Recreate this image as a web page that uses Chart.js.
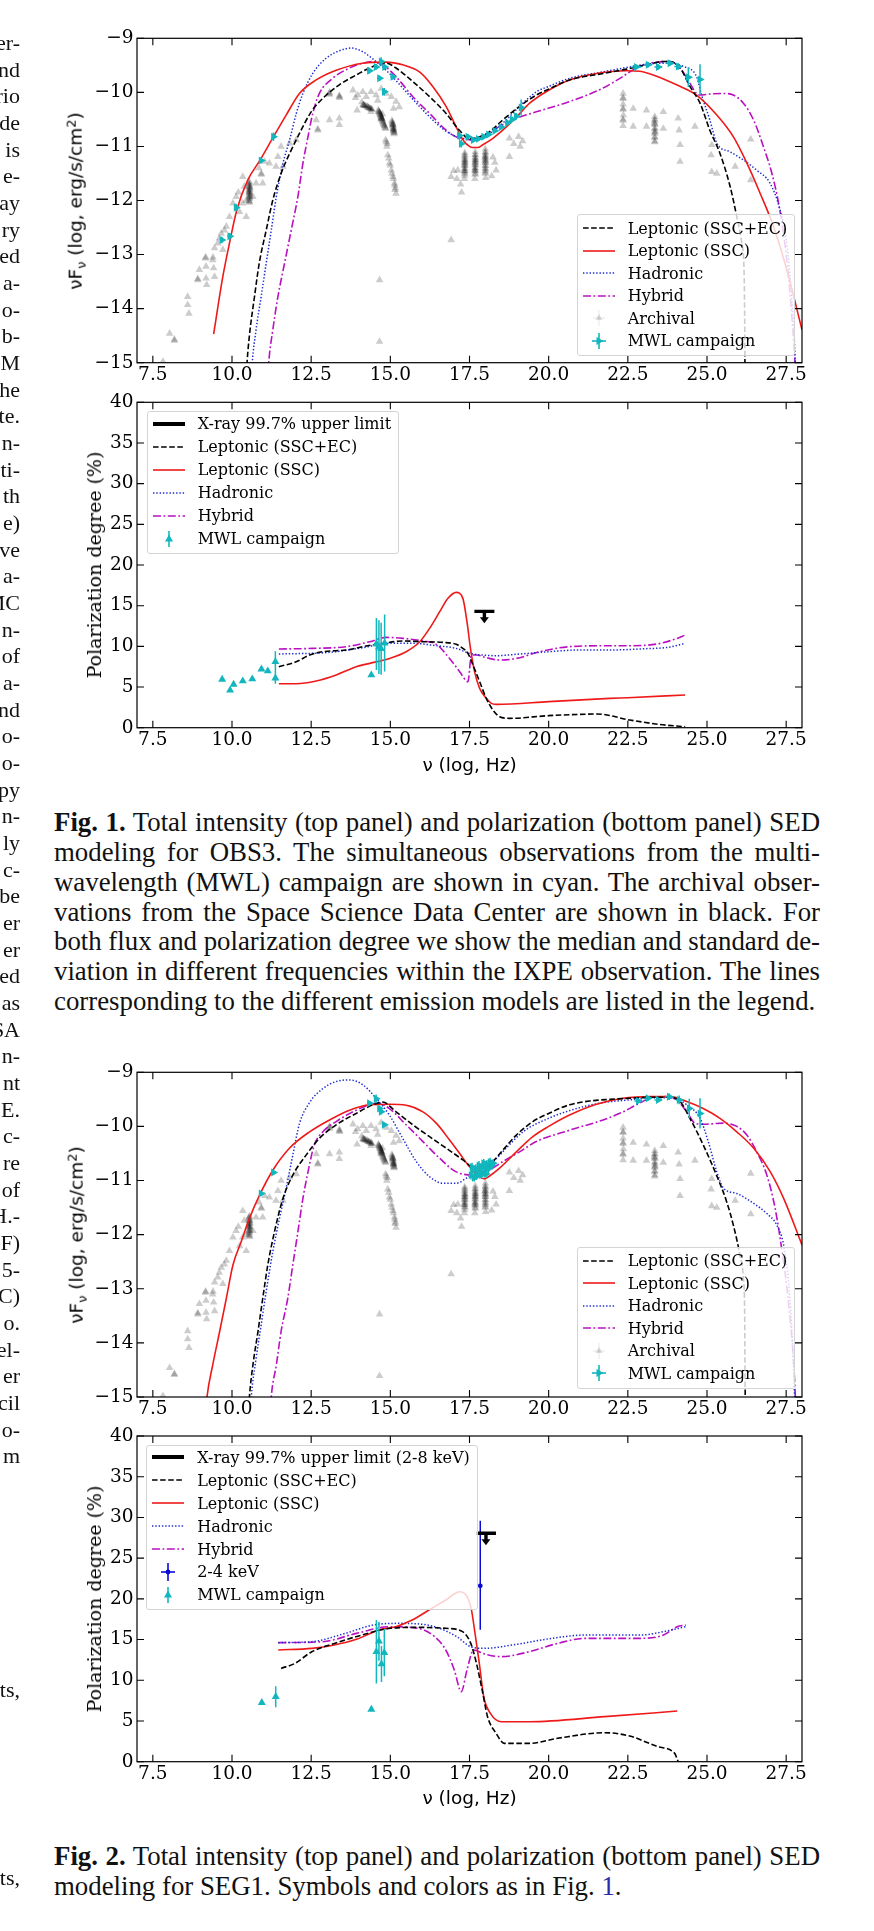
<!DOCTYPE html>
<html lang="en">
<head>
<meta charset="utf-8">
<title>SED and polarization modeling</title>
<script src="https://cdn.jsdelivr.net/npm/chart.js@4.4.0/dist/chart.umd.min.js"></script>
<style>
  html, body { margin: 0; padding: 0; background: #fff; }
  body { position: relative; width: 874px; height: 1931px; overflow: hidden; color: #000; }
  canvas.panel { position: absolute; left: 0; }
  .frag { position: absolute; right: 854px; font: 22px 'Liberation Serif', serif; line-height: 26.67px; white-space: nowrap; color: #111; }
  .cap { position: absolute; left: 54px; width: 766px; font-family: 'Liberation Serif', serif; line-height: 29.7px; color: #111; }
  .cap div { white-space: nowrap; }
  .legend { position: absolute; border: 1px solid #d4d4d4; border-radius: 3px; background: rgba(255,255,255,0.8);
            padding: 0 7px 3px 5px; font: 16px 'DejaVu Serif', serif; }
  .legend .row { display: flex; align-items: center; white-space: nowrap; }
  .legend svg { flex: none; margin-right: 13px; }
  .axlabel { position: absolute; white-space: nowrap; line-height: 1; transform: translate(-50%, -50%); }
  .axlabel.rot { transform: translate(-50%, -50%) rotate(-90deg); }
  .axlabel sub { font-size: 70%; vertical-align: -0.25em; }
  .axlabel sup { font-size: 70%; vertical-align: 0.5em; }
</style>
</head>
<body>
<script>
// ---- axis ticks and legend labels ----
const X_TICKS = [7.5, 10, 12.5, 15, 17.5, 20, 22.5, 25, 27.5];
const SED_Y_TICKS = [-15, -14, -13, -12, -11, -10, -9];
const POL_Y_TICKS = [0, 5, 10, 15, 20, 25, 30, 35, 40];
const SED_LEGEND = ['Leptonic (SSC+EC)', 'Leptonic (SSC)', 'Hadronic', 'Hybrid', 'Archival', 'MWL campaign'];
const POL_OBS3_LEGEND = ['X-ray 99.7% upper limit', 'Leptonic (SSC+EC)', 'Leptonic (SSC)', 'Hadronic', 'Hybrid', 'MWL campaign'];
const POL_SEG1_LEGEND = ['X-ray 99.7% upper limit (2-8 keV)', 'Leptonic (SSC+EC)', 'Leptonic (SSC)', 'Hadronic', 'Hybrid', '2-4 keV', 'MWL campaign'];

// ---- OBS3 SED models: [log nu, log nuFnu] ----
const OBS3_EC = [[10.45,-15.2],[10.5,-14.8],[10.57,-14.39],[10.71,-13.78],[10.86,-13.16],[11.08,-12.55],[11.29,-11.99],[11.55,-11.5],[11.82,-11.13],[12.13,-10.76],[12.5,-10.36],[12.87,-10.11],[13.39,-9.86],[13.92,-9.68],[14.45,-9.52],[14.87,-9.46],[15.18,-9.55],[15.71,-9.8],[16.24,-10.08],[16.76,-10.39],[17.18,-10.7],[17.5,-10.86],[17.82,-10.82],[18.13,-10.73],[18.55,-10.51],[19.08,-10.26],[19.61,-10.05],[20.0,-9.94],[20.66,-9.77],[21.72,-9.65],[22.46,-9.57],[23.09,-9.49],[23.62,-9.43],[23.83,-9.43],[24.15,-9.55],[24.46,-9.89],[24.78,-10.2],[25.09,-10.7],[25.41,-11.13],[25.73,-11.74],[25.94,-12.3],[26.1,-12.79],[26.17,-13.3],[26.19,-14.2],[26.2,-15.2]];
const OBS3_SSC = [[9.42,-14.47],[9.71,-13.41],[9.92,-12.79],[10.15,-12.18],[10.5,-11.62],[10.89,-11.25],[11.31,-10.82],[11.71,-10.42],[12.13,-10.02],[12.66,-9.77],[13.29,-9.59],[14.13,-9.46],[14.87,-9.44],[15.39,-9.49],[15.92,-9.62],[16.34,-9.89],[16.76,-10.26],[17.13,-10.7],[17.32,-10.9],[17.5,-11.0],[17.6,-11.02],[17.76,-11.02],[17.92,-10.97],[18.24,-10.85],[18.55,-10.7],[18.98,-10.46],[19.4,-10.2],[20.0,-9.96],[20.66,-9.77],[21.51,-9.65],[22.46,-9.6],[22.88,-9.61],[23.41,-9.7],[24.04,-9.86],[24.67,-10.05],[25.31,-10.42],[25.83,-10.82],[26.26,-11.31],[26.68,-11.87],[27.1,-12.48],[27.52,-13.28],[28.0,-14.39]];
const OBS3_HAD = [[10.62,-15.2],[10.64,-15.0],[10.76,-14.39],[10.92,-13.78],[11.08,-13.16],[11.24,-12.55],[11.4,-11.93],[11.61,-11.31],[11.82,-10.88],[12.03,-10.39],[12.24,-10.02],[12.55,-9.65],[12.97,-9.37],[13.39,-9.23],[13.76,-9.18],[14.13,-9.25],[14.55,-9.43],[14.97,-9.65],[15.39,-9.92],[15.92,-10.26],[16.45,-10.57],[16.87,-10.76],[17.29,-10.85],[17.71,-10.88],[18.13,-10.76],[18.55,-10.57],[19.08,-10.26],[19.61,-9.99],[20.0,-9.89],[20.66,-9.74],[21.72,-9.62],[22.46,-9.54],[23.09,-9.48],[23.72,-9.46],[24.25,-9.52],[24.67,-9.71],[24.83,-10.05],[25.09,-10.51],[25.31,-10.94],[25.73,-11.1],[26.15,-11.25],[26.57,-11.44],[26.99,-11.68],[27.31,-12.18],[27.52,-12.79],[27.65,-13.6],[27.75,-14.5],[27.8,-15.2]];
const OBS3_HYB = [[11.14,-15.2],[11.16,-15.0],[11.29,-14.39],[11.45,-13.78],[11.66,-13.16],[11.87,-12.55],[12.08,-11.93],[12.24,-11.31],[12.4,-10.82],[12.55,-10.39],[12.76,-10.02],[13.18,-9.74],[13.71,-9.55],[14.13,-9.46],[14.45,-9.43],[14.76,-9.49],[15.18,-9.71],[15.71,-10.08],[16.24,-10.39],[16.76,-10.7],[17.18,-10.85],[17.71,-10.88],[18.13,-10.73],[18.55,-10.6],[18.98,-10.48],[19.61,-10.36],[20.66,-10.17],[21.72,-9.92],[22.25,-9.74],[22.77,-9.55],[23.2,-9.46],[23.83,-9.43],[24.15,-9.55],[24.46,-9.83],[24.67,-10.02],[24.78,-10.05],[25.09,-10.03],[25.52,-10.02],[25.83,-10.05],[26.15,-10.2],[26.47,-10.51],[26.78,-11.0],[27.05,-11.5],[27.26,-12.05],[27.47,-12.85],[27.63,-13.78],[27.78,-15.0],[27.8,-15.2]];

// ---- SEG1 SED models ----
const SEG1_EC = [[10.53,-15.2],[10.55,-15.0],[10.66,-14.41],[10.82,-13.79],[10.97,-13.18],[11.13,-12.56],[11.34,-11.95],[11.61,-11.33],[11.92,-10.9],[12.34,-10.53],[12.76,-10.22],[13.29,-9.97],[13.92,-9.76],[14.45,-9.6],[14.76,-9.55],[15.18,-9.73],[15.71,-9.97],[16.24,-10.19],[16.76,-10.4],[17.29,-10.62],[17.71,-10.81],[17.92,-10.84],[18.24,-10.65],[18.55,-10.44],[18.98,-10.16],[19.5,-9.91],[20.0,-9.76],[20.66,-9.6],[21.3,-9.53],[21.93,-9.5],[22.56,-9.48],[23.3,-9.46],[23.83,-9.46],[24.15,-9.54],[24.46,-9.85],[24.88,-10.34],[25.3,-10.9],[25.62,-11.39],[25.83,-11.82],[26.04,-12.38],[26.15,-12.81],[26.19,-13.5],[26.2,-14.5],[26.21,-15.2]];
const SEG1_SSC = [[9.18,-15.2],[9.21,-15.0],[9.39,-14.41],[9.61,-13.79],[9.82,-13.18],[10.03,-12.56],[10.29,-12.13],[10.55,-11.7],[10.87,-11.27],[11.29,-10.81],[11.82,-10.4],[12.45,-10.1],[13.08,-9.88],[13.71,-9.7],[14.34,-9.6],[14.97,-9.59],[15.5,-9.61],[16.03,-9.73],[16.45,-9.94],[16.87,-10.25],[17.19,-10.5],[17.45,-10.71],[17.71,-10.88],[17.97,-10.97],[18.1,-10.93],[18.45,-10.77],[18.98,-10.47],[19.5,-10.19],[20.0,-10.0],[20.66,-9.79],[21.51,-9.59],[22.35,-9.48],[23.2,-9.45],[23.83,-9.45],[24.36,-9.54],[24.88,-9.67],[25.41,-9.85],[25.94,-10.1],[26.47,-10.4],[27.0,-10.84],[27.42,-11.33],[28.0,-12.19]];
const SEG1_HAD = [[10.59,-15.2],[10.61,-15.0],[10.76,-14.29],[10.92,-13.67],[11.08,-13.05],[11.29,-12.31],[11.5,-11.7],[11.71,-11.14],[11.92,-10.53],[12.13,-9.95],[12.45,-9.56],[12.87,-9.3],[13.29,-9.17],[13.71,-9.14],[14.13,-9.23],[14.55,-9.48],[14.97,-9.79],[15.39,-10.22],[15.82,-10.65],[16.24,-10.93],[16.66,-11.05],[17.08,-11.05],[17.39,-10.96],[17.71,-10.84],[17.82,-10.77],[18.24,-10.65],[18.66,-10.4],[19.19,-10.1],[20.0,-9.85],[20.88,-9.67],[21.72,-9.56],[22.56,-9.51],[23.41,-9.47],[23.93,-9.48],[24.36,-9.6],[24.78,-9.85],[25.04,-10.28],[25.31,-10.84],[25.52,-11.14],[25.94,-11.24],[26.47,-11.42],[26.89,-11.61],[27.2,-11.82],[27.42,-12.19],[27.58,-12.9],[27.7,-14.0],[27.78,-15.2]];
const SEG1_HYB = [[11.22,-15.2],[11.24,-15.0],[11.4,-14.41],[11.55,-13.79],[11.76,-13.18],[11.92,-12.56],[12.08,-11.95],[12.24,-11.33],[12.4,-10.84],[12.6,-10.34],[12.87,-10.1],[13.29,-9.91],[13.82,-9.73],[14.34,-9.6],[14.6,-9.57],[14.97,-9.67],[15.5,-9.97],[16.03,-10.28],[16.56,-10.59],[17.08,-10.84],[17.71,-10.9],[18.03,-10.84],[18.55,-10.65],[19.08,-10.47],[19.61,-10.28],[20.66,-10.07],[21.72,-9.88],[22.35,-9.73],[22.77,-9.6],[23.2,-9.48],[23.72,-9.45],[24.04,-9.51],[24.36,-9.73],[24.62,-9.94],[24.88,-9.96],[25.52,-9.94],[25.94,-10.0],[26.26,-10.16],[26.57,-10.47],[26.89,-10.9],[27.15,-11.51],[27.37,-12.31],[27.58,-13.3],[27.79,-15.0],[27.8,-15.2]];

// ---- polarization degree models: [log nu, PD %] ----
const POL_OBS3_EC = [[11.48,7.5],[12.03,8.11],[12.45,8.93],[12.87,9.34],[13.61,9.55],[14.13,9.96],[14.77,10.37],[15.4,10.66],[16.03,10.57],[16.66,10.49],[17.08,10.25],[17.29,9.75],[17.45,9.14],[17.61,7.7],[17.82,5.66],[18.03,3.61],[18.24,2.17],[18.45,1.35],[18.77,1.15],[20.0,1.48],[20.98,1.64],[21.53,1.68],[22.56,0.95],[23.5,0.4],[24.31,0.12]];
const POL_OBS3_SSC = [[11.48,5.41],[12.03,5.41],[12.66,5.74],[13.29,6.48],[13.92,7.5],[14.35,7.91],[14.98,8.52],[15.5,9.34],[15.93,10.57],[16.24,12.21],[16.56,14.26],[16.82,15.9],[17.08,16.64],[17.29,15.9],[17.42,13.03],[17.53,9.75],[17.66,6.89],[17.82,4.84],[18.03,3.61],[18.19,2.99],[18.35,2.87],[20.0,3.2],[21.93,3.61],[22.5,3.69],[24.31,4.02]];
const POL_OBS3_HAD = [[11.48,9.06],[13.08,9.26],[14.13,9.84],[14.98,10.37],[15.71,10.37],[16.45,10.08],[17.08,9.75],[17.5,9.14],[17.93,8.93],[18.35,8.85],[18.98,9.02],[20.0,9.34],[20.98,9.55],[21.93,9.55],[23.0,9.7],[23.8,9.9],[24.31,10.37]];
const POL_OBS3_HYB = [[11.48,9.67],[12.55,9.75],[13.61,9.96],[14.35,10.57],[14.87,11.1],[15.4,10.98],[16.03,10.66],[16.45,10.25],[16.87,8.52],[17.19,6.89],[17.45,5.66],[17.56,8.93],[17.72,8.93],[18.03,8.61],[18.45,8.32],[18.98,8.52],[19.72,9.34],[20.66,9.96],[21.93,10.08],[22.56,10.08],[23.44,10.3],[24.0,10.9],[24.31,11.39]];
const POL_SEG1_EC = [[11.55,11.46],[11.99,12.08],[12.52,13.51],[13.23,14.53],[14.11,15.56],[14.99,16.38],[15.87,16.5],[16.75,16.38],[17.28,15.97],[17.54,14.53],[17.72,12.08],[17.9,8.8],[18.07,5.53],[18.34,3.48],[18.6,2.25],[19.39,2.25],[20.28,2.87],[21.77,3.56],[22.56,3.15],[23.45,1.84],[23.98,1.02],[24.06,0.3],[24.1,0],[24.33,0]];
const POL_SEG1_SSC = [[11.46,13.72],[12.52,13.92],[13.23,14.33],[13.93,15.03],[14.64,16.17],[15.17,16.58],[15.69,17.4],[16.22,18.63],[16.75,19.86],[17.19,20.88],[17.54,19.04],[17.66,16.17],[17.81,12.08],[17.95,7.98],[18.16,5.94],[18.51,4.91],[19.39,4.91],[21.77,5.53],[24.06,6.22]];
const POL_SEG1_HAD = [[11.46,14.62],[12.52,14.74],[13.58,15.76],[14.46,16.79],[15.34,16.99],[16.4,16.58],[17.1,15.35],[17.54,14.12],[17.98,13.92],[18.86,14.33],[20.1,15.15],[21.16,15.56],[22.92,15.56],[23.63,15.97],[24.33,16.58]];
const POL_SEG1_HYB = [[11.46,14.62],[12.87,14.74],[13.93,15.76],[14.99,16.58],[15.87,16.38],[16.4,15.35],[16.75,13.72],[17.02,11.26],[17.24,8.6],[17.42,11.26],[17.63,13.72],[17.98,13.22],[18.51,12.9],[19.39,13.51],[20.28,14.53],[21.16,15.15],[22.92,15.15],[23.63,15.56],[24.06,16.58],[24.33,16.79]];

// ---- archival SSDC points (shared by both SED panels) ----
const ARCHIVAL = [
  [7.82,-14.98],[8.03,-14.46],[8.18,-14.59],[8.18,-14.57],[8.6,-13.78],[8.6,-13.93],[8.64,-14.09],
  [8.92,-13.47],[8.92,-13.45],[8.97,-13.28],[9.16,-13.07],[9.17,-13.05],[9.18,-13.22],[9.18,-13.44],[9.2,-13.56],
  [9.39,-13.1],[9.42,-13.25],[9.45,-13.41],[9.4,-13.05],[9.45,-12.88],[9.55,-12.79],[9.66,-12.61],[9.76,-12.55],
  [9.82,-12.48],[9.71,-12.91],[9.6,-12.7],[9.92,-12.3],[10.03,-12.05],[10.13,-11.93],[10.24,-12.21],[10.34,-12.05],
  [10.39,-11.74],[10.34,-11.56],[10.2,-11.85],[10.45,-12.3],[10.45,-12.0],
  [10.55,-11.66],[10.55,-11.72],[10.56,-11.77],[10.54,-11.82],[10.55,-11.86],[10.56,-11.9],[10.55,-11.95],
  [10.54,-12.0],[10.55,-12.04],[10.56,-11.8],[10.55,-11.92],[10.53,-11.7],
  [10.55,-11.68],[10.55,-11.74],[10.55,-11.79],[10.55,-11.84],[10.55,-11.88],[10.55,-11.93],[10.55,-11.97],
  [10.55,-12.02],[10.56,-11.75],[10.54,-11.85],
  [10.66,-11.93],[10.76,-11.68],[10.92,-11.5],[10.93,-11.52],[10.97,-11.68],[11.03,-11.28],[11.18,-11.31],
  [11.39,-11.37],[11.45,-11.19],[11.55,-11.0],[11.61,-11.37],[11.82,-10.94],[12.03,-10.88],[10.85,-11.4],
  [12.66,-10.51],[12.71,-10.7],[12.71,-10.68],[13.08,-10.02],[13.08,-10.0],[13.07,-10.04],[13.08,-10.51],
  [13.39,-10.08],[13.39,-10.06],[13.4,-10.1],[13.39,-10.48],[13.39,-10.6],
  [13.82,-9.96],[13.97,-10.05],[14.13,-9.99],[14.24,-10.08],[14.39,-9.99],[14.55,-10.05],[14.71,-9.93],
  [14.87,-10.02],[15.03,-10.08],[15.18,-10.17],[15.28,-10.27],[13.95,-10.33],[14.39,-10.36],[13.9,-10.1],
  [14.1,-10.18],[14.6,-10.15],[15.1,-10.3],
  [14.13,-10.23],[14.16,-10.24],[14.2,-10.25],[14.26,-10.26],[14.3,-10.28],[14.34,-10.29],[14.39,-10.31],[14.42,-10.32],
  [14.15,-10.235],[14.22,-10.255],[14.28,-10.27],[14.36,-10.3],[14.4,-10.31],[14.18,-10.245],[14.32,-10.285],
  [14.62,-10.33],[14.64,-10.36],[14.66,-10.38],[14.68,-10.41],[14.7,-10.43],[14.71,-10.46],[14.73,-10.49],
  [14.75,-10.52],[14.77,-10.56],[14.8,-10.6],[14.82,-10.63],[14.85,-10.67],[14.7,-10.5],[14.75,-10.4],
  [14.63,-10.35],[14.67,-10.4],[14.69,-10.42],[14.72,-10.47],[14.74,-10.5],[14.76,-10.54],[14.78,-10.58],
  [14.81,-10.62],[14.84,-10.66],[14.66,-10.37],[14.7,-10.45],[14.73,-10.48],
  [15.05,-10.52],[15.07,-10.57],[15.08,-10.62],[15.09,-10.66],[15.1,-10.7],[15.11,-10.74],[15.12,-10.77],
  [15.08,-10.6],[15.1,-10.68],[15.06,-10.55],[15.08,-10.6],[15.09,-10.64],[15.1,-10.68],[15.11,-10.72],
  [15.12,-10.75],[15.07,-10.58],[15.1,-10.7],
  [14.85,-10.88],[14.89,-11.0],[14.92,-11.16],[14.97,-11.31],[15.03,-11.44],[15.08,-11.56],[15.13,-11.68],
  [15.16,-11.77],[15.18,-11.87],[14.9,-10.95],[15.0,-11.35],[15.1,-11.6],[15.15,-11.8],[14.87,-10.92],
  [14.95,-11.22],[15.05,-11.5],[15.14,-11.72],
  [14.66,-13.47],[14.66,-14.61],[16.92,-12.73],
  [16.92,-11.56],[17.0,-11.45],[17.13,-11.44],[17.1,-11.6],[17.22,-11.7],[17.25,-11.85],
  [17.35,-11.12],[17.35,-11.18],[17.35,-11.24],[17.35,-11.3],[17.35,-11.36],[17.35,-11.42],[17.35,-11.48],
  [17.35,-11.54],[17.34,-11.6],[17.35,-11.33],[17.36,-11.27],[17.34,-11.45],
  [17.35,-11.15],[17.35,-11.2],[17.35,-11.25],[17.35,-11.3],[17.35,-11.35],[17.35,-11.4],[17.35,-11.45],[17.35,-11.5],
  [17.68,-11.1],[17.68,-11.16],[17.68,-11.22],[17.68,-11.28],[17.68,-11.34],[17.68,-11.4],[17.68,-11.46],
  [17.68,-11.52],[17.67,-11.6],[17.68,-11.31],[17.69,-11.25],[17.67,-11.43],
  [17.68,-11.15],[17.68,-11.2],[17.68,-11.25],[17.68,-11.3],[17.68,-11.35],[17.68,-11.4],[17.68,-11.45],[17.68,-11.5],
  [18.0,-11.05],[18.0,-11.12],[18.0,-11.18],[18.0,-11.24],[18.0,-11.3],[18.0,-11.36],[18.0,-11.42],
  [18.0,-11.5],[18.01,-11.58],[18.0,-11.27],[17.99,-11.2],[18.0,-11.45],
  [18.0,-11.1],[18.0,-11.15],[18.0,-11.2],[18.0,-11.25],[18.0,-11.3],[18.0,-11.35],[18.0,-11.4],[18.0,-11.48],
  [18.24,-11.2],[18.3,-11.3],[18.34,-11.44],[18.2,-11.55],
  [18.76,-10.85],[18.76,-11.19],[18.9,-10.95],[19.05,-10.82],[19.18,-10.9],[19.1,-11.0],
  [22.35,-10.02],[22.35,-10.12],[22.35,-10.22],[22.35,-10.32],[22.36,-10.42],[22.35,-10.52],[22.35,-10.62],
  [22.35,-10.1],[22.35,-10.3],[22.35,-10.5],
  [22.67,-10.3],[22.67,-10.63],[23.09,-10.33],[23.09,-10.63],
  [23.35,-10.45],[23.35,-10.52],[23.35,-10.6],[23.35,-10.68],[23.35,-10.76],[23.35,-10.84],[23.35,-10.92],
  [23.34,-10.56],[23.36,-10.72],[23.35,-10.5],[23.35,-10.58],[23.35,-10.66],[23.35,-10.74],[23.35,-10.82],[23.35,-10.9],
  [23.62,-10.36],[23.62,-10.67],[24.09,-10.48],[24.12,-10.7],[24.15,-10.97],[24.15,-11.28],[24.62,-10.63],
  [25.15,-10.97],[25.13,-11.16],[25.15,-11.47],[25.31,-11.5],[25.89,-11.37],[26.38,-10.87],[26.38,-11.62]
];

// ---- MWL campaign: [x, y, xerr, yerr] or [x, y, xerr, ylow, yhigh] ----
const OBS3_MWL = [
  [9.68,-12.73,0.06,0.06],[9.93,-12.66,0.08,0.06],[10.13,-12.13,0.05,0.07],[10.92,-11.26,0.05,0.05],[11.31,-10.82,0.05,0.08],
  [14.34,-9.6,0.08,0.05],[14.55,-9.53,0.08,0.05],[14.71,-9.43,0.05,0.08],[14.82,-9.53,0.08,0.05],[14.66,-9.74,0.08,0.05],
  [15.08,-9.71,0.08,0.05],[14.81,-9.99,0.05,0.07],
  [17.18,-10.8,0.06,0.08],[17.24,-10.95,0.06,0.07],[17.45,-10.82,0.07,0.05],[17.62,-10.88,0.07,0.04],[17.78,-10.86,0.07,0.04],
  [17.95,-10.82,0.07,0.04],[18.1,-10.78,0.07,0.04],[18.3,-10.71,0.08,0.04],[18.5,-10.64,0.08,0.04],[18.7,-10.56,0.08,0.05],
  [18.85,-10.5,0.08,0.05],[18.98,-10.44,0.08,0.06],[19.13,-10.28,0.06,0.15],
  [22.77,-9.53,0.15,0.04],[23.14,-9.49,0.12,0.05],[23.46,-9.53,0.12,0.05],[23.83,-9.46,0.12,0.05],[24.09,-9.52,0.12,0.06],
  [24.41,-9.72,0.1,0.18],[24.78,-9.76,0.08,0.28]
];
const SEG1_MWL = [
  [10.92,-11.24,0.05,0.04],[11.31,-10.85,0.05,0.04],
  [14.34,-9.57,0.08,0.04],[14.55,-9.49,0.06,0.08],[14.66,-9.67,0.06,0.05],[14.71,-9.73,0.06,0.05],[14.81,-9.97,0.05,0.04],
  [17.55,-10.9,0.04,0.08],[17.58,-10.75,0.04,0.08],[17.6,-10.82,0.04,0.08],[17.65,-10.95,0.04,0.07],[17.7,-10.78,0.04,0.08],
  [17.72,-10.92,0.04,0.07],[17.75,-10.88,0.04,0.08],[17.8,-10.72,0.04,0.08],[17.85,-10.85,0.04,0.08],[17.88,-10.9,0.04,0.07],
  [17.9,-10.75,0.04,0.08],[17.95,-10.68,0.04,0.08],[18.0,-10.8,0.04,0.08],[18.02,-10.88,0.04,0.07],[18.05,-10.7,0.04,0.08],
  [18.1,-10.78,0.04,0.08],[18.15,-10.66,0.04,0.08],[18.2,-10.72,0.04,0.08],[18.25,-10.68,0.04,0.08],
  [22.83,-9.53,0.12,0.04],[23.14,-9.48,0.12,0.04],[23.46,-9.51,0.12,0.04],[23.81,-9.45,0.12,0.06],[24.12,-9.51,0.1,0.08],
  [24.44,-9.67,0.08,0.18],[24.78,-9.76,0.06,0.28]
];
const POL_OBS3_MWL = [[9.69,5.94,0,0],[9.94,4.6,0,0],[10.05,5.33,0,0],[10.34,5.74,0,0],[10.64,5.98,0,0],[10.93,7.2,0,0],
  [11.13,6.97,0,0],[11.37,8.1,0,1.3],[11.37,6.1,0,0.7],[14.4,6.48,0,0],[14.56,10.3,0,3.2],[14.64,9.9,0,3.3],
  [14.71,9.7,0,3.2],[14.82,10.4,0,3.5]];
const POL_SEG1_MWL = [[10.94,7.25,0,0],[11.38,7.98,0,1.3],[14.4,6.43,0,0],[14.56,13.5,0,3.9],[14.64,14.8,0,2.4],
  [14.72,12.0,0,2.2],[14.81,13.4,0,2.9]];
const POL_SEG1_KEV = [[17.84,21.6,0.05,16.2,29.6]];
const UL_OBS3 = [17.97, 14.3];
const UL_SEG1 = [18.02, 28.05];

// ---- page text ----
const LEFT_COLUMN = ['er-','nd','rio','de','is','e-','ay','ry','ed','a-','o-','b-','M','he','te.','n-','ti-','th','e)','ve',
  'a-','MC','n-','of','a-','nd','o-','o-','py','n-','ly','c-','be','er','er','ed','as','SA','n-','nt','E.','c-','re','of',
  'H.-','F)','5-','C)','o.','el-','er','cil','o-','m'];
const CAPTION_1 = [
  '<b>Fig. 1.</b> Total intensity (top panel) and polarization (bottom panel) SED',
  'modeling for OBS3. The simultaneous observations from the multi-',
  'wavelength (MWL) campaign are shown in cyan. The archival obser-',
  'vations from the Space Science Data Center are shown in black. For',
  'both flux and polarization degree we show the median and standard de-',
  'viation in different frequencies within the IXPE observation. The lines',
  'corresponding to the different emission models are listed in the legend.'
];
const CAPTION_2 = [
  '<b>Fig. 2.</b> Total intensity (top panel) and polarization (bottom panel) SED',
  'modeling for SEG1. Symbols and colors as in Fig. <span style="color:#2a2aa8">1</span>.'
];

(function () {
  const CYAN = '#12b6bd';
  const RED = '#ee1a1a';
  const BLUE = '#1c2bd0';
  const MAGENTA = '#bb10c2';
  const SERIF = "'DejaVu Serif', serif";

  const toXY = arr => arr.map(p => ({ x: p[0], y: p[1] }));

  function curve(label, pts, color, dash, width) {
    return { label, data: toXY(pts), showLine: true, borderColor: color, backgroundColor: color,
             borderDash: dash, borderWidth: width, pointRadius: 0, cubicInterpolationMode: 'monotone', order: 1 };
  }

  function markers(label, pts, color, rotation, radius) {
    return { label, data: toXY(pts), errs: pts, showLine: false, pointStyle: 'triangle', pointRotation: rotation,
             pointRadius: radius, backgroundColor: color, borderWidth: 0, order: 0 };
  }

  // boxed frame with inward ticks on all four sides
  const frameTicks = {
    id: 'frameTicks',
    afterDatasetsDraw(chart) {
      const { ctx, chartArea: a, scales: { x, y } } = chart;
      ctx.save();
      ctx.strokeStyle = '#000';
      ctx.lineWidth = 1.2;
      ctx.strokeRect(a.left, a.top, a.right - a.left, a.bottom - a.top);
      ctx.lineWidth = 1.1;
      ctx.beginPath();
      for (const t of x.ticks) {
        const px = x.getPixelForValue(t.value);
        ctx.moveTo(px, a.bottom); ctx.lineTo(px, a.bottom - 7);
        ctx.moveTo(px, a.top); ctx.lineTo(px, a.top + 7);
      }
      for (const t of y.ticks) {
        const py = y.getPixelForValue(t.value);
        ctx.moveTo(a.left, py); ctx.lineTo(a.left + 7, py);
        ctx.moveTo(a.right, py); ctx.lineTo(a.right - 7, py);
      }
      ctx.stroke();
      ctx.restore();
    }
  };

  // error bars drawn just under each marker dataset
  const errorBars = {
    id: 'errorBars',
    beforeDatasetDraw(chart, args) {
      const ds = chart.data.datasets[args.index];
      if (!ds.errs) return;
      const { ctx, chartArea: a, scales: { x, y } } = chart;
      ctx.save();
      ctx.beginPath();
      ctx.rect(a.left, a.top, a.right - a.left, a.bottom - a.top);
      ctx.clip();
      ctx.strokeStyle = ds.backgroundColor;
      ctx.lineWidth = 1.5;
      ctx.beginPath();
      for (const e of ds.errs) {
        const lo = e.length > 4 ? e[3] : e[1] - e[3];
        const hi = e.length > 4 ? e[4] : e[1] + e[3];
        const px = x.getPixelForValue(e[0]);
        const py = y.getPixelForValue(e[1]);
        if (e[2] > 0) {
          ctx.moveTo(x.getPixelForValue(e[0] - e[2]), py);
          ctx.lineTo(x.getPixelForValue(e[0] + e[2]), py);
        }
        if (hi > lo) {
          ctx.moveTo(px, y.getPixelForValue(lo));
          ctx.lineTo(px, y.getPixelForValue(hi));
        }
      }
      ctx.stroke();
      ctx.restore();
    }
  };

  function upperLimit(pt) {
    return {
      id: 'upperLimit',
      afterDatasetsDraw(chart) {
        const { ctx, scales: { x, y } } = chart;
        const px = x.getPixelForValue(pt[0]);
        const py = y.getPixelForValue(pt[1]);
        ctx.save();
        ctx.strokeStyle = '#000';
        ctx.fillStyle = '#000';
        ctx.lineWidth = 3.4;
        ctx.beginPath();
        ctx.moveTo(px - 10, py); ctx.lineTo(px + 10, py);
        ctx.moveTo(px, py); ctx.lineTo(px, py + 7);
        ctx.stroke();
        ctx.beginPath();
        ctx.moveTo(px - 4.5, py + 6); ctx.lineTo(px + 4.5, py + 6); ctx.lineTo(px, py + 12);
        ctx.closePath();
        ctx.fill();
        ctx.restore();
      }
    };
  }

  function panel(o) {
    const canvas = document.createElement('canvas');
    canvas.className = 'panel';
    canvas.width = 874;
    canvas.height = o.height;
    canvas.style.top = o.top + 'px';
    document.body.appendChild(canvas);
    const font = { family: SERIF, size: 18.5 };
    const fixTicks = vals => s => { s.ticks = vals.map(v => ({ value: v })); };
    return new Chart(canvas, {
      type: 'scatter',
      data: { datasets: o.datasets },
      plugins: [errorBars, frameTicks].concat(o.extra || []),
      options: {
        responsive: false,
        animation: false,
        events: [],
        layout: { padding: { top: o.areaTop - o.top, right: 72, bottom: 0, left: 0 } },
        scales: {
          x: {
            type: 'linear', min: 7, max: 28,
            afterBuildTicks: fixTicks(X_TICKS),
            afterFit: s => { s.height = o.top + o.height - o.areaBottom; },
            grid: { display: false, drawTicks: false }, border: { display: false },
            ticks: { font, color: '#000', padding: 1, autoSkip: false, maxRotation: 0, callback: v => v.toFixed(1) }
          },
          y: {
            type: 'linear', min: o.yTicks[0], max: o.yTicks[o.yTicks.length - 1],
            afterBuildTicks: fixTicks(o.yTicks),
            afterFit: s => { s.width = 137; },
            grid: { display: false, drawTicks: false }, border: { display: false },
            ticks: { font, color: '#000', padding: 3.5, autoSkip: false,
                     callback: v => (v < 0 ? '\u2212' : '') + Math.abs(v) }
          }
        },
        plugins: { legend: { display: false }, tooltip: { enabled: false } }
      }
    });
  }

  function sedSets(ec, ssc, had, hyb, mwl) {
    return [
      markers('MWL campaign', mwl, CYAN, 90, 4.6),
      curve('Leptonic (SSC+EC)', ec, '#000', [5.6, 2.5], 1.6),
      curve('Leptonic (SSC)', ssc, RED, [], 1.6),
      curve('Hadronic', had, BLUE, [1.4, 1.9], 1.5),
      curve('Hybrid', hyb, MAGENTA, [8, 2.5, 1.8, 2.5], 1.6),
      { label: 'Archival', data: toXY(ARCHIVAL), showLine: false, pointStyle: 'triangle', pointRadius: 4.4,
        backgroundColor: 'rgba(0,0,0,0.2)', borderWidth: 0, order: 3 }
    ];
  }

  function polSets(ec, ssc, had, hyb, mwl) {
    return [
      markers('MWL campaign', mwl, CYAN, 0, 4.6),
      curve('Leptonic (SSC+EC)', ec, '#000', [5.6, 2.5], 1.6),
      curve('Leptonic (SSC)', ssc, RED, [], 1.6),
      curve('Hadronic', had, BLUE, [1.4, 1.9], 1.5),
      curve('Hybrid', hyb, MAGENTA, [8, 2.5, 1.8, 2.5], 1.6)
    ];
  }

  panel({ top: 0, height: 400, areaTop: 38.3, areaBottom: 362.7, yTicks: SED_Y_TICKS,
          datasets: sedSets(OBS3_EC, OBS3_SSC, OBS3_HAD, OBS3_HYB, OBS3_MWL) });
  panel({ top: 380, height: 400, areaTop: 402.3, areaBottom: 727.7, yTicks: POL_Y_TICKS,
          datasets: polSets(POL_OBS3_EC, POL_OBS3_SSC, POL_OBS3_HAD, POL_OBS3_HYB, POL_OBS3_MWL),
          extra: [upperLimit(UL_OBS3)] });
  panel({ top: 1040, height: 400, areaTop: 1072.3, areaBottom: 1397, yTicks: SED_Y_TICKS,
          datasets: sedSets(SEG1_EC, SEG1_SSC, SEG1_HAD, SEG1_HYB, SEG1_MWL) });
  const seg1Pol = polSets(POL_SEG1_EC, POL_SEG1_SSC, POL_SEG1_HAD, POL_SEG1_HYB, POL_SEG1_MWL);
  seg1Pol.unshift(Object.assign(markers('2-4 keV', POL_SEG1_KEV, '#0a0ad8', 0, 0), { pointStyle: 'circle', pointRadius: 2.4 }));
  panel({ top: 1410, height: 390, areaTop: 1436, areaBottom: 1761.7, yTicks: POL_Y_TICKS,
          datasets: seg1Pol, extra: [upperLimit(UL_SEG1)] });

  // ---- legends ----
  function svgLine(color, w, dash) {
    return `<svg width="32" height="20"><line x1="0" y1="10" x2="32" y2="10" stroke="${color}" stroke-width="${w}"` +
           (dash ? ` stroke-dasharray="${dash}"` : '') + '/></svg>';
  }
  const SAMPLES = {
    ul: svgLine('#000', 4),
    ec: svgLine('#000', 1.6, '5.6 2.5'),
    ssc: svgLine(RED, 1.6),
    had: svgLine(BLUE, 1.5, '1.4 1.9'),
    hyb: svgLine(MAGENTA, 1.6, '8 2.5 1.8 2.5'),
    arch: '<svg width="32" height="20"><g fill="rgba(0,0,0,0.13)" stroke="rgba(0,0,0,0.08)" stroke-width="1.3">' +
          '<line x1="10" y1="10" x2="22" y2="10"/><line x1="16" y1="2" x2="16" y2="18"/>' +
          '<polygon stroke="none" points="16,6 12.5,12 19.5,12"/></g></svg>',
    mwlSed: `<svg width="32" height="20"><g stroke="${CYAN}" stroke-width="1.6"><line x1="9" y1="10" x2="23" y2="10"/>` +
            `<line x1="16" y1="2" x2="16" y2="18"/></g><polygon fill="${CYAN}" points="20.5,10 13.5,6 13.5,14"/></svg>`,
    mwlPol: `<svg width="32" height="20"><line x1="16" y1="2" x2="16" y2="18" stroke="${CYAN}" stroke-width="1.6"/>` +
            `<polygon fill="${CYAN}" points="16,5.5 12,12.5 20,12.5"/></svg>`,
    kev: '<svg width="32" height="20"><g stroke="#0a0ad8" stroke-width="1.6"><line x1="9" y1="10" x2="23" y2="10"/>' +
         '<line x1="16" y1="1" x2="16" y2="19"/></g><circle cx="16" cy="10" r="2.4" fill="#0a0ad8"/></svg>'
  };

  function legend(left, top, rowH, padTop, labels, kinds) {
    const box = document.createElement('div');
    box.className = 'legend';
    box.style.left = left + 'px';
    box.style.top = top + 'px';
    box.style.paddingTop = padTop + 'px';
    box.innerHTML = labels.map((t, i) =>
      `<div class="row" style="height:${rowH}px">${SAMPLES[kinds[i]]}<span>${t}</span></div>`).join('');
    document.body.appendChild(box);
  }
  const SED_KINDS = ['ec', 'ssc', 'had', 'hyb', 'arch', 'mwlSed'];
  legend(576.7, 214.3, 22.55, 1.5, SED_LEGEND, SED_KINDS);
  legend(146.7, 411, 23.0, 0, POL_OBS3_LEGEND, ['ul', 'ec', 'ssc', 'had', 'hyb', 'mwlPol']);
  legend(576.7, 1247.3, 22.55, 1.2, SED_LEGEND, SED_KINDS);
  legend(146.2, 1445, 22.9, 0, POL_SEG1_LEGEND, ['ul', 'ec', 'ssc', 'had', 'hyb', 'kev', 'mwlPol']);

  // ---- axis titles ----
  function axisTitle(html, cx, cy, font, rotated) {
    const el = document.createElement('div');
    el.className = 'axlabel' + (rotated ? ' rot' : '');
    el.style.left = cx + 'px';
    el.style.top = cy + 'px';
    el.style.font = font;
    el.innerHTML = html;
    document.body.appendChild(el);
  }
  const SED_Y = '\u03bdF<sub>\u03bd</sub> (log, erg/s/cm<sup>2</sup>)';
  axisTitle(SED_Y, 76, 200.5, "18.5px 'DejaVu Sans', sans-serif", true);
  axisTitle(SED_Y, 77, 1234.7, "18.5px 'DejaVu Sans', sans-serif", true);
  axisTitle('Polarization degree (%)', 93.5, 565, "19px 'DejaVu Serif', serif", true);
  axisTitle('Polarization degree (%)', 93.5, 1599, "19px 'DejaVu Serif', serif", true);
  axisTitle('\u03bd (log, Hz)', 469.5, 764, "18.5px 'DejaVu Sans', sans-serif", false);
  axisTitle('\u03bd (log, Hz)', 469.5, 1797, "18.5px 'DejaVu Sans', sans-serif", false);

  // ---- clipped neighbouring text column ----
  LEFT_COLUMN.forEach((t, i) => {
    const el = document.createElement('div');
    el.className = 'frag';
    el.style.top = (43.3 + 26.67 * i - 13.33) + 'px';
    el.textContent = t;
    document.body.appendChild(el);
  });
  [1690, 1878.3].forEach(y => {
    const el = document.createElement('div');
    el.className = 'frag';
    el.style.top = (y - 13.33) + 'px';
    el.textContent = 'ts,';
    document.body.appendChild(el);
  });

  // ---- captions, justified line by line ----
  function caption(lines, top) {
    const box = document.createElement('div');
    box.className = 'cap';
    box.style.top = top + 'px';
    box.innerHTML = lines.map(l => `<div><span>${l}</span></div>`).join('');
    document.body.appendChild(box);
    return box;
  }
  const cap1 = caption(CAPTION_1, 808.45);
  const cap2 = caption(CAPTION_2, 1841.9);
  const trial = 26;
  cap1.style.fontSize = cap2.style.fontSize = trial + 'px';
  const w1 = cap1.children[6].firstChild.getBoundingClientRect().width;
  const w2 = cap2.children[1].firstChild.getBoundingClientRect().width;
  const size = (trial * 761.5 / w1 + trial * 568 / w2) / 2;
  cap1.style.fontSize = cap2.style.fontSize = size + 'px';
  [[cap1, 6], [cap2, 1]].forEach(([box, last]) => {
    Array.from(box.children).forEach((line, i) => {
      if (i === last) return;
      const span = line.firstChild;
      const gaps = (span.textContent.match(/ /g) || []).length;
      const w = span.getBoundingClientRect().width;
      line.style.wordSpacing = ((766 - w) / gaps) + 'px';
    });
  });
})();
</script>
</body>
</html>
